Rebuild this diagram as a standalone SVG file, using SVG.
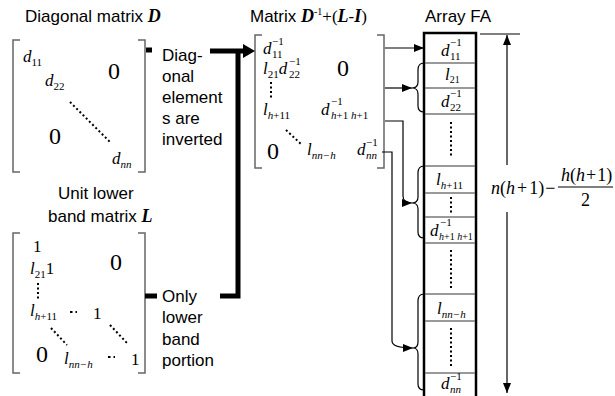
<svg xmlns="http://www.w3.org/2000/svg" width="615" height="396" viewBox="0 0 615 396">
<defs>
<style>
.lbl{font-family:"Liberation Sans",Arial,sans-serif;font-size:17px;fill:#000}
.m{font-family:"Liberation Serif","Times New Roman",serif;font-style:italic;font-size:17px;fill:#000}
.r{font-family:"Liberation Serif","Times New Roman",serif;font-size:17px;fill:#000}
.s{font-size:11px}
.big{font-family:"Liberation Serif","Times New Roman",serif;font-size:24px;fill:#000}
.bi{font-family:"Liberation Serif","Times New Roman",serif;font-style:italic;font-weight:bold;font-size:18px}
.br{fill:none;stroke:#666;stroke-width:1.5}
.dot{stroke:#000;stroke-width:2;stroke-dasharray:2 2.5;fill:none}
.thin{stroke:#000;stroke-width:1.2;fill:none}
.thick{stroke:#000;stroke-width:5;fill:none}
.cell{stroke:#777;stroke-width:1.3}
.fa{stroke:#000;stroke-width:2.5;fill:none}
.fm{font-family:"Liberation Serif","Times New Roman",serif;font-style:italic;font-size:18px;fill:#000}
.up{font-style:normal}
</style>
<marker id="ah" viewBox="0 0 10 8" refX="10" refY="4" markerWidth="10" markerHeight="8" markerUnits="userSpaceOnUse" orient="auto"><path d="M0,0 L10,4 L0,8 z" fill="#000"/></marker>
</defs>
<rect width="615" height="396" fill="#fff"/>

<g id="matrixD">
<text class="lbl" x="25" y="22">Diagonal matrix <tspan class="bi">D</tspan></text>
<path class="br" d="M20,40 H13 V172 H20"/>
<path class="br" d="M138,40 H145 V172 H138"/>
<text class="m" x="23" y="62">d<tspan class="s up" dy="4">11</tspan></text>
<text class="m" x="45" y="86">d<tspan class="s up" dy="4">22</tspan></text>
<text class="big" x="108" y="79">0</text>
<text class="big" x="49" y="144">0</text>
<text class="m" x="112" y="164">d<tspan class="s" dy="4">nn</tspan></text>
<line class="dot" x1="70" y1="102" x2="110" y2="142"/>
</g>

<g id="noteD">
<text class="lbl" x="162" y="61">Diag-</text>
<text class="lbl" x="162" y="82">onal</text>
<text class="lbl" x="162" y="103">element</text>
<text class="lbl" x="162" y="124">s are</text>
<text class="lbl" x="162" y="145">inverted</text>
</g>

<g id="matrixL">
<text class="lbl" x="58" y="199">Unit lower</text>
<text class="lbl" x="48" y="222">band matrix <tspan class="bi">L</tspan></text>
<path class="br" d="M20,233 H13 V373 H20"/>
<path class="br" d="M138,233 H145 V373 H138"/>
<text class="r" x="33" y="252">1</text>
<text class="m" x="30" y="274">l<tspan class="s up" dy="4">21</tspan><tspan class="up" dy="-4">1</tspan></text>
<line class="dot" x1="38" y1="283" x2="38" y2="300"/>
<text class="m" x="30" y="316">l<tspan class="s" dy="4">h</tspan><tspan class="s up">+11</tspan></text>
<line class="dot" x1="70" y1="312" x2="77" y2="312" style="stroke-dasharray:2.5 3"/>
<text class="r" x="93" y="319">1</text>
<line class="dot" x1="110" y1="325" x2="127" y2="343"/>
<line class="dot" x1="51" y1="328" x2="67" y2="345"/>
<text class="big" x="36" y="362">0</text>
<text class="m" x="64" y="364">l<tspan class="s" dy="4">nn−h</tspan></text>
<line class="dot" x1="108" y1="357" x2="115" y2="357" style="stroke-dasharray:2.5 3"/>
<text class="r" x="131" y="365">1</text>
<text class="big" x="110" y="270">0</text>
</g>

<g id="noteL">
<text class="lbl" x="162" y="302">Only</text>
<text class="lbl" x="162" y="323">lower</text>
<text class="lbl" x="162" y="345">band</text>
<text class="lbl" x="162" y="366">portion</text>
</g>

<g id="matrixM">
<text class="lbl" x="250" y="22">Matrix <tspan class="bi">D</tspan><tspan class="r" style="font-size:10px" dy="-7">-1</tspan><tspan class="r" dy="7">+(</tspan><tspan class="bi">L</tspan><tspan class="r">-</tspan><tspan class="bi">I</tspan><tspan class="r">)</tspan></text>
<path class="br" d="M262,35 H255 V168 H262"/>
<path class="br" d="M377,35 H384 V168 H377"/>
<text class="m" x="263" y="54">d</text><text class="r s" x="272" y="45">−1</text><text class="r s" x="272" y="58">11</text>
<text class="m" x="263" y="74">l<tspan class="s up" dy="4">21</tspan><tspan dy="-4">d</tspan></text>
<text class="r s" x="289" y="65">−1</text><text class="r s" x="289" y="78">22</text>
<line class="dot" x1="271" y1="82" x2="271" y2="98"/>
<text class="big" x="337" y="76">0</text>
<text class="m" x="263" y="115">l<tspan class="s" dy="4">h</tspan><tspan class="s up">+11</tspan></text>
<text class="m" x="321" y="115">d</text><text class="r s" x="331" y="105">−1</text><text class="m s" x="331" y="119">h<tspan class="up">+1</tspan> h<tspan class="up">+1</tspan></text>
<line class="dot" x1="286" y1="130" x2="302" y2="145"/>
<text class="big" x="267" y="159">0</text>
<text class="m" x="307" y="155">l<tspan class="s" dy="4">nn−h</tspan></text>
<text class="m" x="357" y="155">d</text><text class="r s" x="366" y="146">−1</text><text class="m s" x="366" y="159">nn</text>
</g>

<g id="arrayFA">
<text class="lbl" x="425" y="22">Array FA</text>
<path class="fa" d="M424,396 V33 H476 V396"/>
<line class="cell" x1="425" y1="63" x2="475" y2="63"/>
<line class="cell" x1="425" y1="88" x2="475" y2="88"/>
<line class="cell" x1="425" y1="114" x2="475" y2="114"/>
<line class="cell" x1="425" y1="166" x2="475" y2="166"/>
<line class="cell" x1="425" y1="193" x2="475" y2="193"/>
<line class="cell" x1="425" y1="217" x2="475" y2="217"/>
<line class="cell" x1="425" y1="243" x2="475" y2="243"/>
<line class="cell" x1="425" y1="294" x2="475" y2="294"/>
<line class="cell" x1="425" y1="321" x2="475" y2="321"/>
<line class="cell" x1="425" y1="373" x2="475" y2="373"/>
<text class="m" x="441" y="56">d</text><text class="r s" x="450" y="46">−1</text><text class="r s" x="450" y="60">11</text>
<text class="m" x="445" y="80">l<tspan class="up" style="font-size:10px" dy="3">21</tspan></text>
<text class="m" x="441" y="107">d</text><text class="r s" x="450" y="97">−1</text><text class="r s" x="450" y="111">22</text>
<line class="dot" x1="451" y1="122" x2="451" y2="158"/>
<text class="m" x="436" y="185">l<tspan class="s" dy="4">h</tspan><tspan class="s up">+11</tspan></text>
<line class="dot" x1="451" y1="197" x2="451" y2="213"/>
<text class="m" x="430" y="236">d</text><text class="r s" x="440" y="226">−1</text><text class="m" style="font-size:10px" x="439" y="240">h<tspan class="up">+1</tspan> h<tspan class="up">+1</tspan></text>
<line class="dot" x1="451" y1="250" x2="451" y2="288"/>
<text class="m" x="437" y="314">l<tspan class="s" dy="4">nn−h</tspan></text>
<line class="dot" x1="451" y1="328" x2="451" y2="366"/>
<text class="m" x="441" y="389">d</text><text class="r s" x="450" y="380">−1</text><text class="m s" x="450" y="393">nn</text>
</g>

<g id="dimension">
<line class="thin" x1="480" y1="34" x2="520" y2="34"/>
<line class="thin" x1="507" y1="165" x2="507" y2="35" marker-end="url(#ah)"/>
<line class="thin" x1="507" y1="212" x2="507" y2="393" marker-end="url(#ah)"/>
<text class="fm" x="491" y="194">n<tspan class="up">(</tspan>h<tspan class="up" dx="2">+</tspan><tspan class="up" dx="2">1)</tspan><tspan class="up" dx="1">−</tspan></text>
<text class="fm" x="561" y="181">h<tspan class="up">(</tspan>h<tspan class="up" dx="1">+</tspan><tspan class="up" dx="1">1)</tspan></text>
<line x1="558" y1="187" x2="613" y2="187" stroke="#000" stroke-width="1.2"/>
<text class="fm" style="font-style:normal" x="581" y="206">2</text>
</g>

<g id="connectors">
<line class="thick" x1="146" y1="50" x2="152" y2="50" stroke-width="4"/>
<line class="thick" x1="145" y1="296" x2="157" y2="296" stroke-width="4"/>
<path class="thick" d="M220,296 H238 V51"/>
<path class="thick" d="M210,51 H245"/>
<path d="M243,44 L255,51 L243,58 z" fill="#000"/>
<line class="thin" x1="385" y1="48" x2="424" y2="48" marker-end="url(#ah)"/>
<line class="thin" x1="385" y1="88" x2="412" y2="88" marker-end="url(#ah)"/>
<path class="thin" d="M385,121 H403 V196 Q403,203 412,203" marker-end="url(#ah)"/>
<path class="thin" d="M382,152 H392 V341 Q392,348 413,348" marker-end="url(#ah)"/>
<path class="thin" d="M424,63 Q418,63 418,70 V82 Q418,88 412,88 Q418,88 418,94 V106 Q418,112 424,112"/>
<path class="thin" d="M424,166 Q418,166 418,173 V197 Q418,203 412,203 Q418,203 418,209 V232 Q418,238 424,238"/>
<path class="thin" d="M424,294 Q418,294 418,301 V342 Q418,348 413,348 Q418,348 418,354 V384 Q418,390 424,390"/>
</g>
</svg>
